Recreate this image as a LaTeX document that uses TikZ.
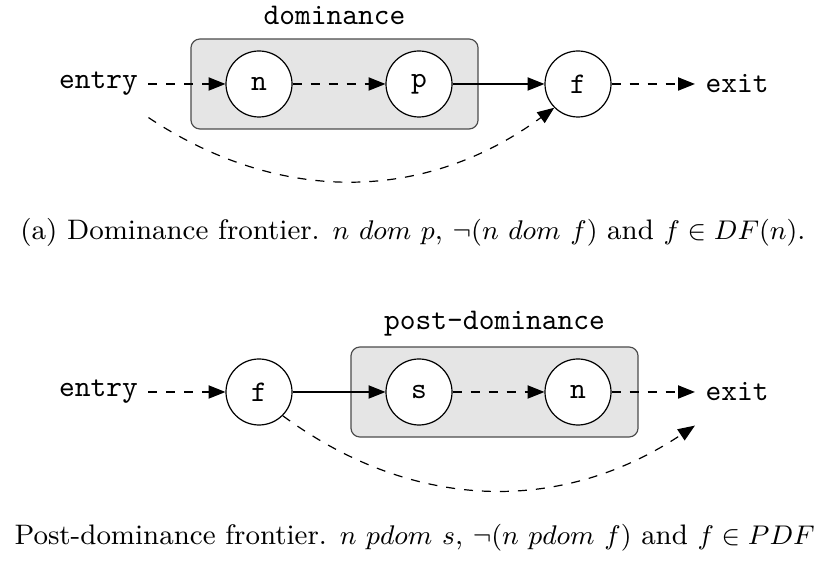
\documentclass[tikz,border=0pt]{standalone}
\usepackage{amsmath}
\usepackage{amssymb}
\usepackage{tikz}
\usetikzlibrary{arrows.meta}

\begin{document}
\begin{tikzpicture}[x=0.3333pt, y=0.3333pt,
    block/.style={draw, circle, fill=white, inner sep=0pt, minimum size=22pt, font=\ttfamily},
    term/.style={minimum height=22pt, font=\ttfamily},
    region/.style={draw=black!70, fill=gray!20, rounded corners=3pt, minimum width=95.7pt, minimum height=30pt},
    caption/.style={font=\fontsize{9.4pt}{11.5pt}\selectfont},
    flow/.style={-{Triangle[length=5.6pt, width=4.4pt]}},
    maybe/.style={flow, dashed}]
      \clip (0,0) rectangle (818,565);

      % dominance
      \node[region] (dom) at (334.5,481) {};
      \node[anchor=base, font=\ttfamily] (domlabel) at (334.5,540) {dominance};

      \node[term] (entry1) at (98.5,481) {entry};
      \node[block] (n1) at (259,481) {n};
      \node[block] (p1) at (419,481) {p};
      \node[block] (f1) at (578,481) {f};
      \node[term] (exit1) at (737,481) {exit};

      \draw[maybe] (entry1) -- (n1);
      \draw[maybe] (n1) -- (p1);
      \draw[flow] (p1) -- (f1);
      \draw[maybe] (f1) -- (exit1);
      \draw[maybe] (entry1.south east) to[bend right=35] (f1.south west);

      \node[caption, anchor=base] (capa) at (413,325)
        {(a) Dominance frontier. $n\ dom\ p$, $\neg(n\ dom\ f)$ and $f \in DF(n)$.};

      % post-dominance
      \node[region] (pdom) at (494.5,173) {};
      \node[anchor=base, font=\ttfamily] (pdomlabel) at (494.5,235) {post-dominance};

      \node[term] (entry2) at (98.5,173) {entry};
      \node[block] (f2) at (259,173) {f};
      \node[block] (s2) at (419,173) {s};
      \node[block] (n2) at (578,173) {n};
      \node[term] (exit2) at (737,173) {exit};

      \draw[maybe] (entry2) -- (f2);
      \draw[flow] (f2) -- (s2);
      \draw[maybe] (s2) -- (n2);
      \draw[maybe] (n2) -- (exit2);
      \draw[maybe] (f2.south east) to[bend right=35] (exit2.south west);

      \node[caption, anchor=base west, inner sep=0pt] (capb) at (14,20)
        {Post-dominance frontier. $n\ pdom\ s$, $\neg(n\ pdom\ f)$ and $f \in PDF$};
    \end{tikzpicture}
\end{document}
